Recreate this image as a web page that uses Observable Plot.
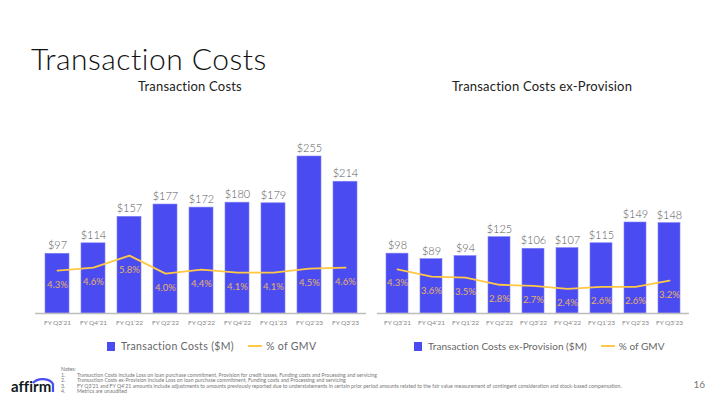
<!DOCTYPE html>
<html>
<head>
<meta charset="utf-8">
<script src="https://cdn.jsdelivr.net/npm/d3@7"></script>
<script src="https://cdn.jsdelivr.net/npm/@observablehq/plot@0.6"></script>
<style>
  html, body { margin: 0; padding: 0; background: #fff; }
  body { width: 720px; height: 405px; position: relative; overflow: hidden; font-family: Lato, "Noto Sans", sans-serif; color: #222; font-variant-ligatures: none; }
  svg, text { font-variant-ligatures: none; }
  .abs { position: absolute; white-space: nowrap; }
  #title { left: 31px; top: 40px; font-size: 30px; font-weight: 300; color: #111; letter-spacing: 0.5px; }
  .sub { top: 78px; font-size: 13px; color: #222; transform: translateX(-50%); letter-spacing: 0.2px; }
  .leg { font-size: 10.5px; color: #666; display: flex; align-items: center; letter-spacing: 0.35px; }
  .leg.r { font-size: 10px; letter-spacing: 0.05px; }
  .sq { width: 8px; height: 9px; background: #4b4bf2; display: inline-block; margin-right: 6px; }
  .ln { width: 14px; height: 2px; background: #ffc845; display: inline-block; margin: 0 4px 0 14px; }
  #notes { left: 61px; top: 367px; font-size: 5.2px; color: #777; line-height: 5.6px; }
  #notes .n { display: inline-block; width: 16px; }
  #page { right: 15px; top: 378px; font-size: 10px; color: #777; }
</style>
</head>
<body>
<div id="title" class="abs">Transaction Costs</div>
<div class="abs sub" style="left:190px">Transaction Costs</div>
<div class="abs sub" style="left:542px">Transaction Costs ex-Provision</div>
<div id="left" class="abs" style="left:0px; top:130px;"></div>
<div id="right" class="abs" style="left:365px; top:130px;"></div>
<div class="abs leg" style="left:107px; top:340px;"><span class="sq"></span>Transaction Costs ($M)<span class="ln"></span>% of GMV</div>
<div class="abs leg r" style="left:414px; top:340px;"><span class="sq"></span>Transaction Costs ex-Provision ($M)<span class="ln"></span>% of GMV</div>
<div id="logo" class="abs" style="left:11px; top:374px;"></div>
<div id="notes" class="abs">Notes:<br>
<span class="n">1.</span>Transaction Costs include Loss on loan purchase commitment, Provision for credit losses, Funding costs and Processing and servicing<br>
<span class="n">2.</span>Transaction Costs ex-Provision include Loss on loan purchase commitment, Funding costs and Processing and servicing<br>
<span class="n">3.</span>FY Q3’21 and FY Q4’21 amounts include adjustments to amounts previously reported due to understatements in certain prior period amounts related to the fair value measurement of contingent consideration and stock-based compensation.<br>
<span class="n">4.</span>Metrics are unaudited</div>
<div id="page" class="abs">16</div>
<script>
const quarters = ["FY Q3’21","FY Q4’21","FY Q1’22","FY Q2’22","FY Q3’22","FY Q4’22","FY Q1’23","FY Q2’23","FY Q3’23"];
const costs = [97,114,157,177,172,180,179,255,214];
const costsPct = [4.3,4.6,5.8,4.0,4.4,4.1,4.1,4.5,4.6];
const exProv = [98,89,94,125,106,107,115,149,148];
const exProvPct = [4.3,3.6,3.5,2.8,2.7,2.4,2.6,2.6,3.2];

const BLUE = "#4b4bf2", GOLD = "#ffc845";

function chart({values, pcts, k, width, height, marginLeft, marginRight, marginTop, marginBottom, ymax, pi, po}) {
  const data = quarters.map((q, i) => ({q, v: values[i], p: pcts[i]}));
  return Plot.plot({
    width, height, marginLeft, marginRight, marginTop, marginBottom,
    style: {fontFamily: "Lato, 'Noto Sans', sans-serif", background: "transparent", overflow: "visible"},
    x: {domain: quarters, paddingInner: pi, paddingOuter: po, label: null},
    y: {domain: [0, ymax], axis: null},
    marks: [
      Plot.barY(data, {x: "q", y: "v", fill: BLUE, stroke: "#8080f8", strokeWidth: 0.6}),
      Plot.ruleY([0], {stroke: "#bdbdbd", strokeWidth: 1.5}),
      Plot.lineY(data, {x: "q", y: d => d.p * k, stroke: GOLD, strokeWidth: 1.8}),
      Plot.text(data, {x: "q", y: "v", text: d => "$" + d.v, dy: -8, fontSize: 11, fill: "#5a5a5a", fontWeight: 300, style: "letter-spacing:0.4px"}),
      Plot.text(data, {x: "q", y: d => d.p * k, text: d => d.p.toFixed(1) + "%", dy: 14, fontSize: 9.5, fill: "#e6b462"}),
      Plot.axisX({tickSize: 0, tickPadding: 7, fontSize: 6.5, fill: "#888", label: null})
    ]
  });
}

document.getElementById("left").append(chart({
  values: costs, pcts: costsPct, k: 16.2, width: 370, height: 205,
  marginLeft: 35, marginRight: 4, marginTop: 26, marginBottom: 22, ymax: 255, pi: 0.342, po: 0.2
}));
document.getElementById("right").append(chart({
  values: exProv, pcts: exProvPct, k: 16.8, width: 335, height: 205,
  marginLeft: 12, marginRight: 11, marginTop: 92, marginBottom: 22, ymax: 149, pi: 0.355, po: 0.19
}));

// logo
const logo = d3.select("#logo").append("svg").attr("width", 46).attr("height", 22).style("overflow", "visible");
logo.append("text").attr("x", 0).attr("y", 18).attr("font-family", "Lato, sans-serif").attr("font-weight", 700)
  .attr("font-size", 15).attr("fill", "#101820").text("affirm");
logo.append("path").attr("d", "M22,9 A11,7.5 0 0 1 42,10 L42,18").attr("fill", "none").attr("stroke", BLUE).attr("stroke-width", 2.2);
</script>
</body>
</html>
